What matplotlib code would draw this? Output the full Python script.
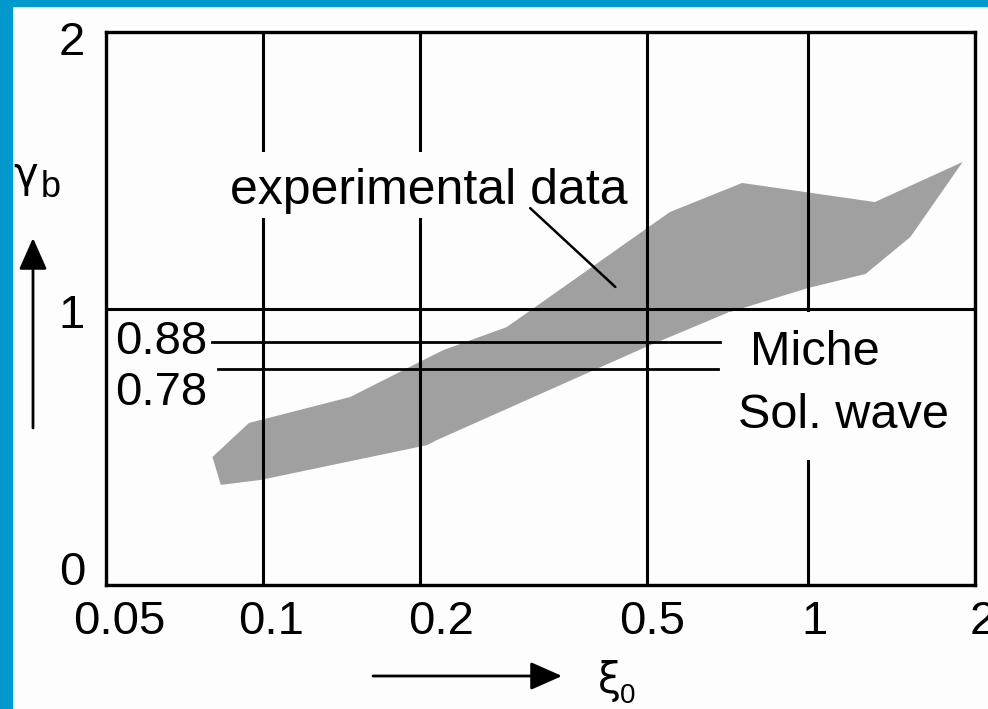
import numpy as np
import matplotlib
matplotlib.use('Agg')
import matplotlib.pyplot as plt
from matplotlib.patches import Rectangle

plt.rcParams['font.family'] = ['Liberation Sans', 'DejaVu Sans']

# band of experimental data (upper edge left->right, lower edge left->right)
upper_x = [0.080, 0.094, 0.147, 0.208, 0.220, 0.284, 0.552, 0.753, 1.32, 1.90]
upper_y = [0.463, 0.586, 0.680, 0.825, 0.850, 0.933, 1.349, 1.454, 1.385, 1.530]
lower_x = [0.083, 0.099, 0.206, 0.214, 0.498, 0.706, 1.00, 1.27, 1.53]
lower_y = [0.362, 0.380, 0.506, 0.524, 0.861, 0.984, 1.074, 1.125, 1.259]

# breaker index limits
miche_val = 0.88
solwave_val = 0.78

x_ticks = [0.05, 0.1, 0.2, 0.5, 1, 2]
x_ticklabels = ['0.05', '0.1', '0.2', '0.5', '1', '2']
y_ticks = [0, 1, 2]
y_ticklabels = ['0', '1', '2']

W, H = 988, 709
def fx(px):
    return px / W
def fy(py):
    return 1 - py / H

# hand drawn log axis: grid lines are not spaced exactly logarithmically
grid_frac = np.array([0, 157, 314, 541, 702, 869]) / 869.0
log_ticks = np.log10(x_ticks)

def fwd(x):
    x = np.clip(np.asarray(x, dtype=float), 1e-6, None)
    return np.interp(np.log10(x), log_ticks, grid_frac)

def inv(y):
    return 10 ** np.interp(y, grid_frac, log_ticks)

fig = plt.figure(figsize=(W / 100, H / 100), dpi=100, facecolor='#fdfdfd')
ax = fig.add_axes([fx(106), fy(585), (975 - 106) / W, (585 - 32) / H])
ax.set_facecolor('#fdfdfd')
ax.set_xscale('function', functions=(fwd, inv))
ax.set_xlim(0.05, 2)
ax.set_ylim(0, 2)

# blue frame at top and left
fig.add_artist(Rectangle((0, fy(6)), 1, 6 / H, transform=fig.transFigure, color='#0099cc', zorder=10))
fig.add_artist(Rectangle((0, 0), 12 / W, 1, transform=fig.transFigure, color='#0099cc', zorder=10))

poly_x = upper_x + lower_x[::-1]
poly_y = upper_y + lower_y[::-1]
ax.fill(poly_x, poly_y, color='#a0a0a0', lw=0, zorder=1)

ax.set_xticks(x_ticks)
ax.set_yticks(y_ticks)
ax.tick_params(length=0, labelbottom=False, labelleft=False)
ax.grid(True, color='black', lw=2.2)
for s in ax.spines.values():
    s.set_linewidth(2.4)

# tick labels, slightly offset like in the drawing
x_dx = [13, 8, 21, 5, 6, 8]
for v, lab, dx in zip(x_ticks, x_ticklabels, x_dx):
    ax.annotate(lab, xy=(v, 0), xycoords=('data', 'axes fraction'), xytext=(dx, -15),
                textcoords='offset pixels', ha='center', va='top', fontsize=34, annotation_clip=False)
y_dy = [0, -2, -6]
y_va = ['baseline', 'center_baseline', 'center_baseline']
for v, lab, dy, va in zip(y_ticks, y_ticklabels, y_dy, y_va):
    ax.annotate(lab, xy=(0, v), xycoords=('axes fraction', 'data'), xytext=(-21, dy),
                textcoords='offset pixels', ha='right', va=va, fontsize=34, annotation_clip=False)

# Miche / solitary wave lines
ax.plot([0.080, 0.685], [miche_val, miche_val], color='black', lw=2.0, zorder=2)
ax.plot([0.082, 0.680], [solwave_val, solwave_val], color='black', lw=2.0, zorder=2)
ax.text(9 / 869, (585 - 337) / 553, '0.88', transform=ax.transAxes, fontsize=34,
        ha='left', va='center_baseline', zorder=4)
ax.text(9 / 869, (585 - 388) / 553, '0.78', transform=ax.transAxes, fontsize=34,
        ha='left', va='center_baseline', zorder=4)

# white boxes behind labels
ax.add_patch(Rectangle(((220 - 106) / 869, (585 - 218) / 553), 420 / 869, 66 / 553,
                       transform=ax.transAxes, color='#fdfdfd', lw=0, zorder=3))
ax.add_patch(Rectangle(((728 - 106) / 869, (585 - 460) / 553), 234 / 869, 148 / 553,
                       transform=ax.transAxes, color='#fdfdfd', lw=0, zorder=3))

ax.text((230 - 106) / 869, (585 - 204) / 553, 'experimental data', transform=ax.transAxes,
        fontsize=36, ha='left', va='baseline', zorder=4)
ax.annotate('', xy=(0.44, 1.078), xytext=(0.312, 1.363),
            arrowprops=dict(arrowstyle='-', lw=1.8, color='black', shrinkA=0, shrinkB=0), zorder=4)
ax.text((750 - 106) / 869, (585 - 365) / 553, 'Miche', transform=ax.transAxes,
        fontsize=35, ha='left', va='baseline', zorder=4)
ax.text((738 - 106) / 869, (585 - 428) / 553, 'Sol. wave', transform=ax.transAxes,
        fontsize=35, ha='left', va='baseline', zorder=4)

# axis labels with arrows
fig.text(fx(13), fy(187), 'γ', fontsize=30, family='DejaVu Sans', ha='left', va='baseline')
fig.text(fx(41), fy(197), 'b', fontsize=26, ha='left', va='baseline')
fig.text(fx(598), fy(693), 'ξ', fontsize=30, family='DejaVu Sans', ha='left', va='baseline')
fig.text(fx(620), fy(703), '0', fontsize=20, ha='left', va='baseline')

arrow_kw = dict(arrowstyle='-|>,head_length=0.97,head_width=0.43', mutation_scale=20,
                lw=2.0, color='black', shrinkA=0, shrinkB=0)
fig.add_artist(plt.Annotation('', xy=(fx(33), fy(238)), xytext=(fx(33), fy(428)),
                              xycoords='figure fraction', arrowprops=arrow_kw))
fig.add_artist(plt.Annotation('', xy=(fx(562), fy(676)), xytext=(fx(373), fy(676)),
                              xycoords='figure fraction', arrowprops=arrow_kw))

fig.savefig('out.png', dpi=100, facecolor=fig.get_facecolor())
